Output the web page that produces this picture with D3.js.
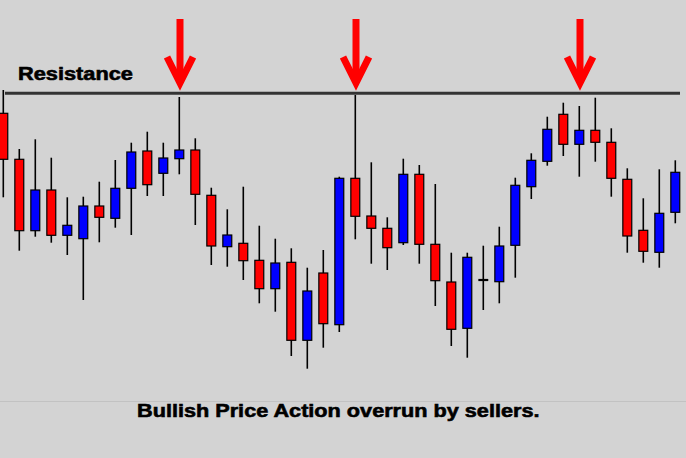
<!DOCTYPE html>
<html><head><meta charset="utf-8">
<script src="https://cdn.jsdelivr.net/npm/d3@7"></script>
<style>html,body{margin:0;padding:0;background:#d3d3d3;overflow:hidden}</style>
</head><body>
<svg id="chart" width="686" height="458"></svg>
<script>
// price units (arbitrary)
const opens  = [286.7,240.7,169.3,210,164.7,161.3,194,181.7,211.7,249,226.7,241.3,250,204.7,153.3,156.7,139.7,111.3,137.7,59.7,127,75.3,221.7,184,171.7,157.3,225.7,155.7,118,71.7,120,118.3,154.7,213.3,238.7,285.7,255.7,269.7,257.7,220.7,169.7,147.7,187.7];
const highs  = [310,251,260.7,242.3,202.7,203.3,218.3,240,257.3,268.3,257.3,303,261.7,212.3,190.7,213.3,174.3,161.3,151.7,132.3,150,223.3,305,237.7,182.7,241.3,235,216,147.3,147.3,154.3,173.3,222.3,246.7,283.3,297.3,294,302.3,271.7,231.7,201.7,230.7,239.7];
const lows   = [202.7,149.3,163.3,157.3,145,100,157.7,172.3,165,204,204,225.7,175,135,133.3,120,96.7,88.3,44,31.3,52.3,68,160.7,136.3,130,155,136.3,94,54,42.3,90,96.7,122.3,201,234.3,244,223.3,238.3,203.3,147.3,137.3,132.3,176.7];
const closes = [240.7,169.3,210,164.7,174.7,194,182.7,211.7,248,215.3,242,250,205.7,154,165,139.3,111.3,137,59.7,109,76.3,221.7,183.7,171.7,152.3,225.7,155.7,119.3,70.7,142.7,120,154,214.7,239.7,270.7,255.7,269.7,257.7,221.7,164,148.7,186.7,227.7];
const resistanceLevel = 306.7;
const arrowCandles = [11, 22, 36];
const labelText = "Resistance";
const captionText = "Bullish Price Action overrun by sellers.";

const data = opens.map((o,i)=>({i, o, h:highs[i], l:lows[i], c:closes[i]}));
const svg = d3.select("#chart");
svg.append("rect").attr("width",686).attr("height",458).attr("fill","#d3d3d3");

const x = d3.scaleBand().domain(data.map(d=>d.i)).range([-4.7, 683.3]).paddingInner(0.38).paddingOuter(0.19);
const y = d3.scaleLinear().domain([0,400]).range([400,0]);
const cx = i => x(i) + x.bandwidth()/2;

// separator line
svg.append("line").attr("x1",0).attr("x2",686).attr("y1",401.5).attr("y2",401.5)
  .attr("stroke","#c2c2c2").attr("stroke-width",1);

// resistance line
svg.append("line").attr("x1",5).attr("x2",680)
  .attr("y1",y(resistanceLevel)).attr("y2",y(resistanceLevel))
  .attr("stroke","#333").attr("stroke-width",3);

const g = svg.append("g");
// wicks
g.selectAll("line.wick").data(data).join("line").attr("class","wick")
  .attr("x1",d=>cx(d.i)).attr("x2",d=>cx(d.i))
  .attr("y1",d=>y(d.h)).attr("y2",d=>y(d.l))
  .attr("stroke","#000").attr("stroke-width",1.6);
// bodies
g.selectAll("rect.body").data(data.filter(d=>d.o!==d.c)).join("rect").attr("class","body")
  .attr("x",d=>x(d.i)+0.5).attr("width",x.bandwidth()-1)
  .attr("y",d=>y(Math.max(d.o,d.c))).attr("height",d=>Math.abs(y(d.o)-y(d.c)))
  .attr("fill",d=>d.c>d.o?"#0000ff":"#ff0000")
  .attr("stroke","#000").attr("stroke-width",1.2);
// doji
g.selectAll("line.doji").data(data.filter(d=>d.o===d.c)).join("line").attr("class","doji")
  .attr("x1",d=>x(d.i)).attr("x2",d=>x(d.i)+x.bandwidth())
  .attr("y1",d=>y(d.o)).attr("y2",d=>y(d.o))
  .attr("stroke","#000").attr("stroke-width",2.2);

// arrows
const ag = svg.selectAll("g.arrow").data(arrowCandles).join("g").attr("class","arrow")
  .attr("transform",i=>`translate(${cx(i)+0.7},0)`);
ag.append("path").attr("d","M0,19 L0,80").attr("stroke","#ff0000").attr("stroke-width",7).attr("fill","none");
ag.append("path").attr("d","M-13,57 L0,83 L13,57").attr("stroke","#ff0000").attr("stroke-width",7)
  .attr("fill","none").attr("stroke-linejoin","miter").attr("stroke-miterlimit",10);

// texts
svg.append("text").text(labelText)
  .attr("transform","translate(18,80) scale(1.17,1)")
  .attr("font-family","Liberation Sans, Arial, sans-serif").attr("font-weight","bold")
  .attr("font-size",18.6).attr("fill","#000").attr("stroke","#000").attr("stroke-width",0.6);
svg.append("text").text(captionText)
  .attr("transform","translate(137,417) scale(1.165,1)")
  .attr("font-family","Liberation Sans, Arial, sans-serif").attr("font-weight","bold")
  .attr("font-size",18.6).attr("fill","#000").attr("stroke","#000").attr("stroke-width",0.6);
</script>
</body></html>
